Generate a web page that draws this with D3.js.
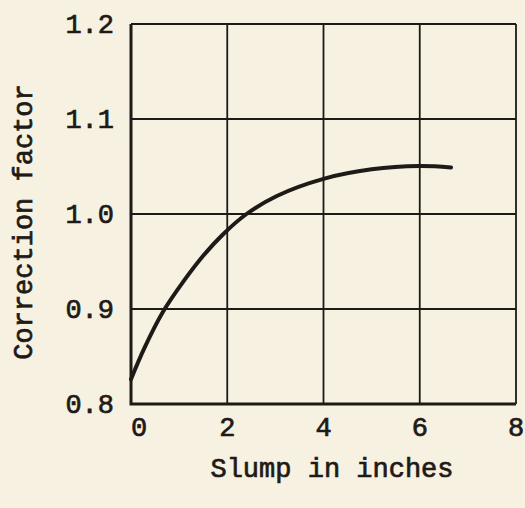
<!DOCTYPE html>
<html>
<head>
<meta charset="utf-8">
<script src="https://cdn.jsdelivr.net/npm/d3@7/dist/d3.min.js"></script>
<style>
  html, body { margin: 0; padding: 0; background: #f6f1e1; }
  svg { display: block; }
  text {
    font-family: "Liberation Mono", "DejaVu Sans Mono", monospace;
    fill: #1e1a17; stroke: #1e1a17; stroke-width: 0.7px;
  }
</style>
</head>
<body>
<svg id="chart" width="525" height="508"></svg>
<script>
// Slump (inches) against correction factor
const slump  = [0, 0.28, 0.665, 1.09, 1.5, 1.92, 2.4, 3.03, 4, 5, 6, 6.65];
const factor = [0.826, 0.859, 0.897, 0.929, 0.956, 0.979, 1.0, 1.019, 1.037, 1.047, 1.0505, 1.049];

const xTicks = [0, 2, 4, 6, 8];
const yTicks = [0.8, 0.9, 1.0, 1.1, 1.2];

const ink = "#1e1a17";
const svg = d3.select("#chart");

const x = d3.scaleLinear().domain([0, 8]).range([131, 516]);
const y = d3.scaleLinear().domain([0.8, 1.2]).range([404, 24]);

// grid
const grid = svg.append("g").attr("stroke", ink).attr("stroke-width", 1.8);
grid.selectAll("line.v").data(xTicks).join("line")
  .attr("class", "v")
  .attr("x1", d => x(d)).attr("x2", d => x(d))
  .attr("y1", y(1.2)).attr("y2", y(0.8));
grid.selectAll("line.h").data(yTicks).join("line")
  .attr("class", "h")
  .attr("x1", x(0)).attr("x2", x(8))
  .attr("y1", d => y(d)).attr("y2", d => y(d));

// heavier left and bottom axes
svg.append("path")
  .attr("d", `M${x(0)},${y(1.2)} V${y(0.8)} H${x(8)}`)
  .attr("fill", "none").attr("stroke", ink).attr("stroke-width", 3);

// tick labels
svg.append("g").selectAll("text").data(xTicks).join("text")
  .attr("x", (d, i) => x(d) + (i === 0 ? 8 : 0))
  .attr("y", 436)
  .attr("text-anchor", "middle")
  .attr("font-size", 27)
  .text(d => d);

svg.append("g").selectAll("text").data(yTicks).join("text")
  .attr("x", 114)
  .attr("y", d => y(d) + 9)
  .attr("text-anchor", "end")
  .attr("font-size", 27)
  .text(d => d.toFixed(1));

// curve
const pts = slump.map((s, i) => [s, factor[i]]);
svg.append("path")
  .datum(pts)
  .attr("fill", "none")
  .attr("stroke", ink)
  .attr("stroke-width", 4)
  .attr("stroke-linecap", "round")
  .attr("d", d3.line().x(d => x(d[0])).y(d => y(d[1])).curve(d3.curveCatmullRom.alpha(0.5)));

// axis titles
svg.append("text")
  .attr("x", 332).attr("y", 477)
  .attr("text-anchor", "middle")
  .attr("font-size", 27)
  .text("Slump in inches");

svg.append("text")
  .attr("transform", "translate(32,222) rotate(-90)")
  .attr("text-anchor", "middle")
  .attr("font-size", 27)
  .text("Correction factor");
</script>
</body>
</html>
